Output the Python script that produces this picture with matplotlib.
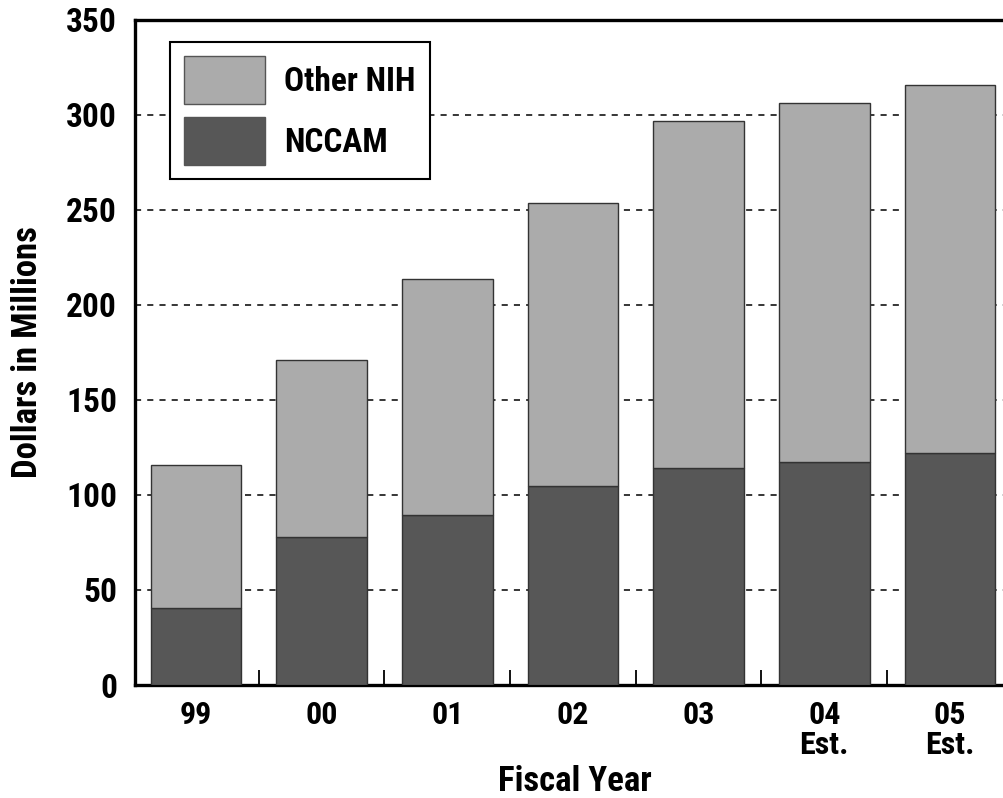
import matplotlib
matplotlib.use('agg')
import matplotlib.pyplot as plt
from matplotlib.patches import Patch
from matplotlib.ticker import MultipleLocator, FixedLocator

# data (millions of dollars)
years = ['99', '00', '01', '02', '03', '04\nEst.', '05\nEst.']
nccam = [40.5, 78, 89.5, 104.5, 114, 117.5, 122]
total = [116, 171, 213.5, 253.5, 297, 306.5, 316]
other_nih = [t - n for t, n in zip(total, nccam)]

light = '#ababab'
dark = '#575757'

plt.rcParams['font.family'] = ['Roboto Condensed', 'DejaVu Sans']
plt.rcParams['font.weight'] = 'bold'
plt.rcParams['axes.labelweight'] = 'bold'

fig = plt.figure(figsize=(10.04, 7.98), dpi=100)
ax = fig.add_axes([0.1345, 0.1416, 0.8655, 0.8334])

x = list(range(len(years)))
ax.bar(x, nccam, width=0.72, color=dark, edgecolor='#333333', linewidth=1.0, zorder=3)
ax.bar(x, other_nih, bottom=nccam, width=0.72, color=light, edgecolor='#333333',
       linewidth=1.0, zorder=3)

ax.set_ylim(0, 350)
ax.set_xlim(-0.485, 6.43)
ax.yaxis.set_major_locator(MultipleLocator(50))
ax.yaxis.grid(True, linestyle=(0, (4, 4)), color='black', linewidth=1.1, zorder=0)
ax.tick_params(axis='y', length=0, pad=13, labelsize=24)

ax.set_xticks(x)
ax.set_xticklabels(years, fontsize=23, linespacing=1.0)
ax.tick_params(axis='x', which='major', length=0, pad=11)
ax.xaxis.set_minor_locator(FixedLocator([i + 0.5 for i in range(6)]))
ax.tick_params(axis='x', which='minor', direction='in', length=11, width=1.3)

for s in ['left', 'bottom', 'top']:
    ax.spines[s].set_linewidth(2.4)
ax.spines['right'].set_visible(False)

ax.set_xlabel('Fiscal Year', fontsize=25)
ax.xaxis.set_label_coords((575 - 135) / 869, -0.12)
ax.set_ylabel('Dollars in Millions', fontsize=25)
ax.yaxis.set_label_coords(-0.105, 0.5)

handles = [Patch(facecolor=light, edgecolor='#555555', label='Other NIH'),
           Patch(facecolor=dark, edgecolor='#555555', label='NCCAM')]
leg = ax.legend(handles=handles, loc='upper left', bbox_to_anchor=(0.040, 0.967),
                borderaxespad=0, fontsize=24, handlelength=2.45, handleheight=1.85,
                labelspacing=0.38, borderpad=0.42, handletextpad=0.57,
                fancybox=False, framealpha=1, edgecolor='black')
leg.get_frame().set_linewidth(1.5)
leg.set_zorder(5)

fig.savefig('out.png', dpi=100)
